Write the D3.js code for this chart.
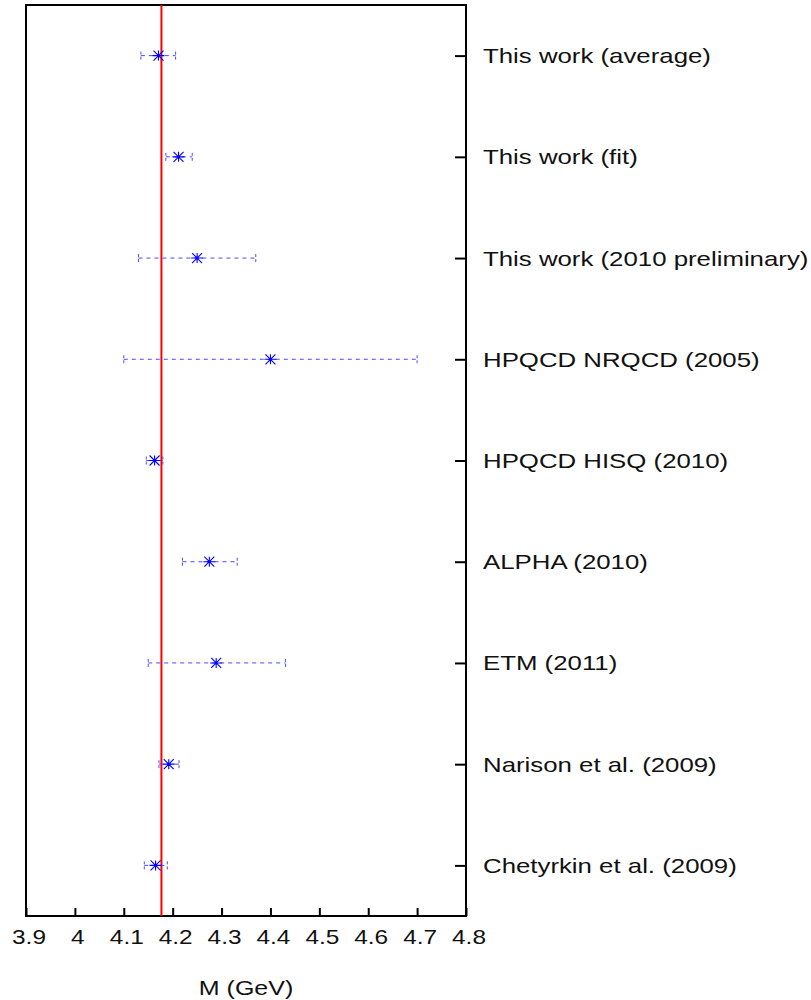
<!DOCTYPE html>
<html>
  <head>
    <meta charset="UTF-8">
    <script src="https://d3js.org/d3.v7.min.js"></script>
    <title>M comparison</title>
  </head>
  <body style="margin:0">
    <svg id="f1" height="1000" width="811"/>
    <script>

    // values
    var labels = ["This work (average)", "This work (fit)", "This work (2010 preliminary)",
                  "HPQCD NRQCD (2005)", "HPQCD HISQ (2010)", "ALPHA (2010)",
                  "ETM (2011)", "Narison et al. (2009)", "Chetyrkin et al. (2009)"];
    var centers = [4.171, 4.212, 4.250, 4.400, 4.163, 4.275, 4.289, 4.192, 4.165];
    var errLow  = [0.036, 0.026, 0.120, 0.300, 0.017, 0.055, 0.139, 0.020, 0.023];
    var errHigh = [0.035, 0.028, 0.120, 0.300, 0.017, 0.057, 0.142, 0.021, 0.024];
    var xTicks = [3.9, 4, 4.1, 4.2, 4.3, 4.4, 4.5, 4.6, 4.7, 4.8];
    var refLine = 4.177;

    var svg = d3.select("#f1")
    var font = "'Liberation Sans', Arial, sans-serif"
    // plot box (note: "top" is reserved on window, so use other names)
    var boxL = 26, boxR = 466, boxT = 5, boxB = 916

    var x = d3.scaleLinear().domain([3.9, 4.8]).range([boxL, boxR])
    var y = d3.scalePoint().domain(labels).range([boxT, boxB]).padding(0.5)

    var rows = labels.map(function(d, i) {
      return {name: d, m: centers[i], lo: centers[i] - errLow[i], hi: centers[i] + errHigh[i]};
    });

    // bottom axis, ticks pointing inwards
    var xAxis = svg.append("g")
      .attr("transform", "translate(0," + boxB + ")")
      .call(d3.axisBottom(x).tickValues(xTicks).tickSize(-8).tickFormat(d3.format("")))
    xAxis.select(".domain").remove()
    xAxis.selectAll("line").attr("stroke", "#000").attr("stroke-width", 2)
    xAxis.selectAll("text")
      .attr("y", 0).attr("dy", 0)
      .attr("transform", "translate(2.5,28) scale(1.22,1)")
      .attr("fill", "#111")
      .style("font-family", font).style("font-size", "20px")

    // labels on the right
    var yAxis = svg.append("g")
      .attr("transform", "translate(" + boxR + ",0)")
      .call(d3.axisRight(y).tickSize(-11))
    yAxis.select(".domain").remove()
    yAxis.selectAll("line").attr("stroke", "#000").attr("stroke-width", 2)
    yAxis.selectAll("text")
      .attr("x", 0).attr("dy", 0)
      .attr("transform", "translate(17,7) scale(1.29,1)")
      .attr("fill", "#111")
      .style("font-family", font).style("font-size", "20px")

    // frame
    svg.append("rect")
      .attr("x", boxL).attr("y", boxT)
      .attr("width", boxR - boxL).attr("height", boxB - boxT)
      .attr("fill", "none").attr("stroke", "#000").attr("stroke-width", 2)

    // reference line
    svg.append("line")
      .attr("x1", x(refLine)).attr("x2", x(refLine))
      .attr("y1", boxT).attr("y2", boxB)
      .attr("stroke", "#ff0000").attr("stroke-width", 2)

    var g = svg.selectAll(".pt").data(rows).enter().append("g")

    // dashed error bars
    g.append("line")
      .attr("x1", function(d){ return x(d.lo); })
      .attr("x2", function(d){ return x(d.hi); })
      .attr("y1", function(d){ return y(d.name); })
      .attr("y2", function(d){ return y(d.name); })
      .attr("stroke", "#4a4aff").attr("stroke-width", 1)
      .attr("stroke-dasharray", "4,4")

    // end caps
    ;["lo", "hi"].forEach(function(k) {
      g.append("line")
        .attr("x1", function(d){ return x(d[k]); })
        .attr("x2", function(d){ return x(d[k]); })
        .attr("y1", function(d){ return y(d.name) - 4; })
        .attr("y2", function(d){ return y(d.name) + 4; })
        .attr("stroke", "#4a4aff").attr("stroke-width", 1)
        .attr("stroke-dasharray", "3,2")
    })

    // asterisk markers
    g.append("path")
      .attr("transform", function(d){ return "translate(" + x(d.m) + "," + y(d.name) + ")"; })
      .attr("d", "M-6,0H6M0,-5V5M-5,-5L5,5M-5,5L5,-5")
      .attr("fill", "none").attr("stroke", "#0000ff").attr("stroke-width", 1.1)

    // axis title
    svg.append("text")
      .attr("transform", "translate(246,995) scale(1.25,1)")
      .attr("text-anchor", "middle")
      .attr("fill", "#111")
      .style("font-family", font).style("font-size", "20px")
      .text("M (GeV)")

    </script>
  </body>
</html>
